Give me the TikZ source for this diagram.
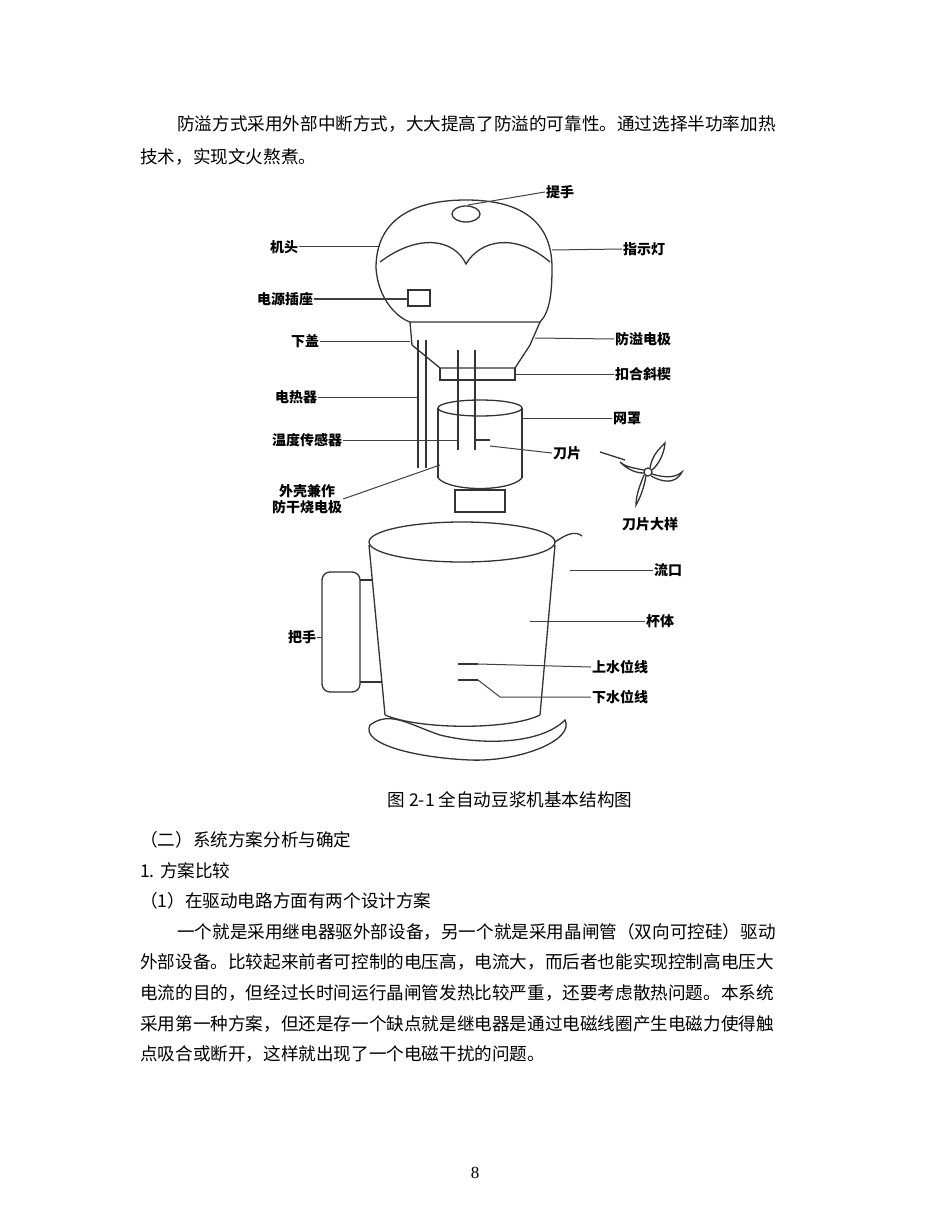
\documentclass[tikz,border=0pt]{standalone}
\usepackage{fontspec}
\setmainfont{Liberation Serif}
\newfontfamily\cjk{Noto Sans CJK SC}
\usetikzlibrary{positioning}
\begin{document}
\begin{tikzpicture}[x=1pt,y=-1pt]
  \tikzset{
    body/.style={font=\cjk\fontsize{17.6}{20}\selectfont, anchor=west, inner sep=0pt},
    lbl/.style={font=\cjk\bfseries\fontsize{14}{16}\selectfont, inner sep=1pt, align=left},
    part/.style={draw=black!80, line width=1.3pt},
    lead/.style={draw=black!75, line width=1pt},
  }
  \useasboundingbox[fill=white] (0,0) rectangle (950,1230);
  % text above
  \node[body] (p1) at (177,124) {防溢方式采用外部中断方式，大大提高了防溢的可靠性。通过选择半功率加热};
  \node[body] (p2) at (140,157) {技术，实现文火熬煮。};
  % machine head
  \draw[part] (376,268) .. controls (376,215) and (420,200) .. (466,200)
    .. controls (512,200) and (552,215) .. (552,268);
  \draw[part] (376,268) .. controls (378,300) and (398,318) .. (410,322)
    -- (540,322) .. controls (550,312) and (552,292) .. (552,268);
  \draw[part] (380,262) .. controls (420,232) and (455,240) .. (466,264)
    .. controls (480,240) and (515,232) .. (550,262);
  \draw[part] (466,214) ellipse (14 and 8);
  \draw[part] (408,290) rectangle (430,306);
  \draw[part] (410,322) -- (412,345) -- (440,368) -- (515,368) -- (530,345) -- (540,322);
  \draw[part] (440,368) -- (440,380) -- (515,380) -- (515,368);
  % heater and sensor
  \draw[part] (418,340) -- (418,468) (426,340) -- (426,468);
  \draw[part] (458,350) -- (458,450) (475,350) -- (475,450);
  % mesh cup
  \draw[part] (480,408) ellipse (42 and 8);
  \draw[part] (438,408) -- (438,478) (522,408) -- (522,478);
  \draw[part] (438,478) .. controls (450,492) and (510,492) .. (522,478);
  \draw[part] (455,490) rectangle (505,512);
  \draw[part] (476,440) -- (490,440);
  % blade detail
  \draw[part] (648,472) circle (4);
  \draw[part] (650,468) .. controls (652,455) and (660,448) .. (665,443)
    .. controls (664,455) and (658,465) .. (652,470);
  \draw[part] (652,474) .. controls (665,478) and (675,478) .. (682,472)
    .. controls (675,485) and (662,482) .. (651,476);
  \draw[part] (646,476) .. controls (644,488) and (640,498) .. (636,505)
    .. controls (636,495) and (640,485) .. (644,475);
  \draw[part] (644,470) .. controls (632,468) and (624,466) .. (620,462)
    .. controls (628,470) and (636,473) .. (644,473);
  \draw[part] (600,452) -- (625,460);
  % cup
  \draw[part] (462,542) ellipse (93 and 20);
  \draw[part] (555,542) .. controls (565,535) and (575,530) .. (582,536);
  \draw[part] (369,545) -- (385,715) (555,545) -- (540,715);
  \draw[part] (385,715) .. controls (420,730) and (510,730) .. (540,715);
  \draw[part] (370,725) .. controls (390,710) and (410,725) .. (440,735)
    .. controls (480,745) and (540,745) .. (565,720)
    .. controls (575,740) and (520,762) .. (470,760)
    .. controls (420,758) and (360,745) .. (370,725);
  \draw[part, rounded corners=8pt] (322,572) rectangle (360,692);
  \draw[part] (360,580) -- (372,580) (360,682) -- (382,682);
  \draw[part] (458,664) -- (478,664) (458,680) -- (478,680);
  % labels
  \node[lbl] (handle) at (560,192) {提手};
  \node[lbl] (head) at (284,247) {机头};
  \node[lbl] (lamp) at (644,249) {指示灯};
  \node[lbl] (socket) at (285,299) {电源插座};
  \node[lbl] (lid) at (305,341) {下盖};
  \node[lbl] (elec) at (643,339) {防溢电极};
  \node[lbl] (wedge) at (643,374) {扣合斜楔};
  \node[lbl] (heat) at (296,397) {电热器};
  \node[lbl] (net) at (627,418) {网罩};
  \node[lbl] (sensor) at (307,440) {温度传感器};
  \node[lbl] (blade) at (567,453) {刀片};
  \node[lbl, align=center] (shell) at (307,499) {外壳兼作\\防干烧电极};
  \node[lbl] (bigblade) at (650,524) {刀片大样};
  \node[lbl] (spout) at (668,570) {流口};
  \node[lbl] (cupbody) at (660,621) {杯体};
  \node[lbl] (grip) at (302,637) {把手};
  \node[lbl] (upper) at (620,667) {上水位线};
  \node[lbl] (lower) at (620,697) {下水位线};
  \draw[lead] (handle.west) -- (468,205);
  \draw[lead] (head.east) -- (380,247);
  \draw[lead] (lamp.west) -- (552,250);
  \draw[lead] (socket.east) -- (408,299);
  \draw[lead] (lid.east) -- (410,341);
  \draw[lead] (elec.west) -- (535,338);
  \draw[lead] (wedge.west) -- (515,374);
  \draw[lead] (heat.east) -- (418,397);
  \draw[lead] (net.west) -- (522,418);
  \draw[lead] (sensor.east) -- (458,440);
  \draw[lead] (blade.west) -- (490,446);
  \draw[lead] (shell.east) -- (440,465);
  \draw[lead] (spout.west) -- (570,570);
  \draw[lead] (cupbody.west) -- (530,621);
  \draw[lead] (grip.east) -- (322,637);
  \draw[lead] (upper.west) -- (478,664);
  \draw[lead] (lower.west) -- (500,697) -- (478,680);
  % caption and text below
  \node[font=\cjk\fontsize{17.6}{20}\selectfont] (cap) at (510,800) {图 2-1 全自动豆浆机基本结构图};
  \node[body] (s1) at (140,840) {（二）系统方案分析与确定};
  \node[body] (s2) at (140,871) {1. 方案比较};
  \node[body] (s3) at (140,901) {（1）在驱动电路方面有两个设计方案};
  \node[body] (q1) at (177,932) {一个就是采用继电器驱外部设备，另一个就是采用晶闸管（双向可控硅）驱动};
  \node[body] (q2) at (140,962) {外部设备。比较起来前者可控制的电压高，电流大，而后者也能实现控制高电压大};
  \node[body] (q3) at (140,993) {电流的目的，但经过长时间运行晶闸管发热比较严重，还要考虑散热问题。本系统};
  \node[body] (q4) at (140,1024) {采用第一种方案，但还是存一个缺点就是继电器是通过电磁线圈产生电磁力使得触};
  \node[body] (q5) at (140,1054) {点吸合或断开，这样就出现了一个电磁干扰的问题。};
  \node[font=\fontsize{17}{20}\selectfont] (pg) at (475,1173) {8};
\end{tikzpicture}
\end{document}
